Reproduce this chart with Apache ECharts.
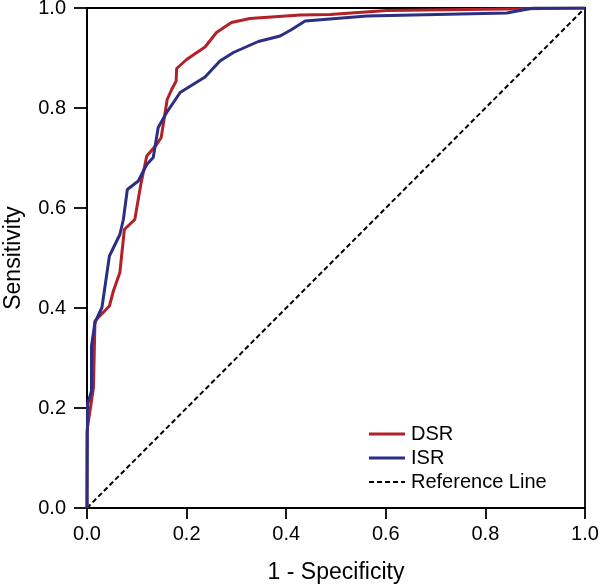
<!DOCTYPE html>
<html>
<head>
<meta charset="utf-8">
<script src="https://cdn.jsdelivr.net/npm/echarts@6/dist/echarts.min.js"></script>
<style>html,body{margin:0;padding:0;background:#fff}#c{width:600px;height:585px}</style>
</head>
<body>
<div id="c"></div>
<script>
var dsrX = [0, 0, 0.001, 0.013, 0.016, 0.045, 0.053, 0.066, 0.075, 0.096, 0.108, 0.12, 0.14, 0.149, 0.161, 0.17, 0.179, 0.18, 0.2, 0.237, 0.26, 0.29, 0.327, 0.428, 0.488, 0.602, 1.0];
var dsrY = [0, 0.15, 0.161, 0.241, 0.374, 0.404, 0.434, 0.471, 0.557, 0.577, 0.647, 0.704, 0.727, 0.741, 0.817, 0.837, 0.854, 0.879, 0.897, 0.922, 0.951, 0.971, 0.979, 0.986, 0.987, 0.995, 1.0];
var isrX = [0, 0.001, 0.009, 0.009, 0.016, 0.03, 0.045, 0.066, 0.073, 0.081, 0.103, 0.12, 0.133, 0.143, 0.16, 0.187, 0.237, 0.267, 0.294, 0.344, 0.388, 0.411, 0.438, 0.562, 0.843, 0.896, 1.0];
var isrY = [0, 0.207, 0.234, 0.324, 0.371, 0.401, 0.504, 0.547, 0.577, 0.637, 0.654, 0.687, 0.701, 0.761, 0.791, 0.831, 0.862, 0.894, 0.911, 0.933, 0.944, 0.957, 0.974, 0.984, 0.99, 1.0, 1.0];
var refX = [0, 1];
var refY = [0, 1];
var seriesNames = ['DSR', 'ISR', 'Reference Line'];
var xAxisTitle = '1 - Specificity';
var yAxisTitle = 'Sensitivity';

function zip(xs, ys) { return xs.map(function (x, i) { return [x, ys[i]]; }); }

var chart = echarts.init(document.getElementById('c'), null, {renderer: 'canvas'});
var font = 'Liberation Sans, Arial, sans-serif';
var solidIcon = 'path://M0,0H36V3H0Z';
var dashIcon = 'path://M0,0H5V2H0Z M8,0H13V2H8Z M16,0H21V2H16Z M24,0H29V2H24Z M32,0H36V2H32Z';
chart.setOption({
  animation: false,
  backgroundColor: '#fff',
  grid: {left: 87, right: 15, top: 8, bottom: 77, containLabel: false, outerBoundsMode: 'none',
         show: true, borderColor: '#000', borderWidth: 1.8, backgroundColor: 'transparent'},
  legend: {
    left: 364, top: 419, orient: 'vertical', itemWidth: 36, itemGap: 4,
    data: [
      {name: seriesNames[0], icon: solidIcon, itemStyle: {color: '#b22028'}},
      {name: seriesNames[1], icon: solidIcon, itemStyle: {color: '#2b2e83'}},
      {name: seriesNames[2], icon: dashIcon, itemStyle: {color: '#000'}}
    ],
    itemHeight: 3,
    textStyle: {fontFamily: font, fontSize: 20, color: '#000', padding: [0, 0, 0, 1]}
  },
  xAxis: {
    type: 'value', min: 0, max: 1, interval: 0.2,
    name: xAxisTitle, nameLocation: 'middle', nameGap: 53,
    nameTextStyle: {fontFamily: font, fontSize: 23, color: '#000'},
    axisLine: {lineStyle: {color: '#000', width: 1.8}},
    axisTick: {length: 11, lineStyle: {color: '#000', width: 1.8}},
    axisLabel: {margin: 16, fontFamily: font, fontSize: 20, color: '#000', formatter: function (v) { return v.toFixed(1); }},
    splitLine: {show: false}
  },
  yAxis: {
    type: 'value', min: 0, max: 1, interval: 0.2,
    name: yAxisTitle, nameLocation: 'middle', nameGap: 62,
    nameTextStyle: {fontFamily: font, fontSize: 23, color: '#000'},
    axisLine: {lineStyle: {color: '#000', width: 1.8}},
    axisTick: {length: 13, lineStyle: {color: '#000', width: 1.8}},
    axisLabel: {margin: 21, fontFamily: font, fontSize: 20, color: '#000', formatter: function (v) { return v.toFixed(1); }},
    splitLine: {show: false}
  },
  series: [
    {name: seriesNames[0], type: 'line', data: zip(dsrX, dsrY), showSymbol: false, symbol: 'none',
     lineStyle: {color: '#b22028', width: 3}, itemStyle: {color: '#b22028'}, z: 3},
    {name: seriesNames[1], type: 'line', data: zip(isrX, isrY), showSymbol: false, symbol: 'none',
     lineStyle: {color: '#2b2e83', width: 3}, itemStyle: {color: '#2b2e83'}, z: 4},
    {name: seriesNames[2], type: 'line', data: zip(refX, refY), showSymbol: false, symbol: 'none',
     lineStyle: {color: '#000', width: 2, type: [5, 3]}, itemStyle: {color: '#000'}, z: 2}
  ]
});
</script>
</body>
</html>
